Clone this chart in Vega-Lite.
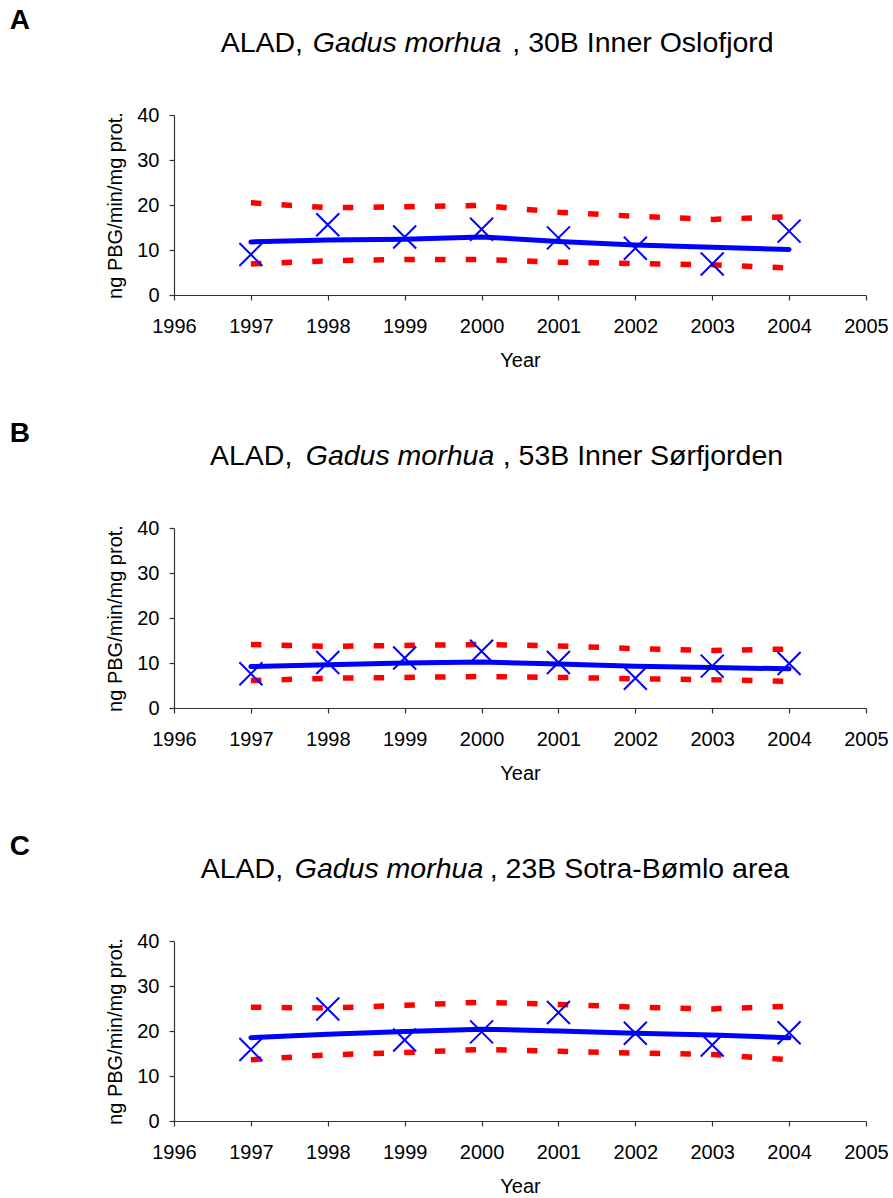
{
  "$schema": "https://vega.github.io/schema/vega-lite/v6.json",
  "padding": {"left": 9, "top": 6, "right": 5, "bottom": 5},
  "background": "white",
  "spacing": 233,
  "bounds": "flush",
  "datasets": {
    "cod": [
      {"panel": "A", "year": 1997, "obs": 9.0, "fit": 11.8, "upper": 20.5, "lower": 6.9},
      {"panel": "A", "year": 1998, "obs": 15.6, "fit": 12.2, "upper": 19.4, "lower": 7.6},
      {"panel": "A", "year": 1999, "obs": 12.9, "fit": 12.4, "upper": 19.6, "lower": 7.9},
      {"panel": "A", "year": 2000, "obs": 14.6, "fit": 12.9, "upper": 19.9, "lower": 7.9},
      {"panel": "A", "year": 2001, "obs": 12.7, "fit": 11.9, "upper": 18.4, "lower": 7.3},
      {"panel": "A", "year": 2002, "obs": 10.4, "fit": 11.1, "upper": 17.5, "lower": 7.0},
      {"panel": "A", "year": 2003, "obs": 6.9, "fit": 10.6, "upper": 16.8, "lower": 6.7},
      {"panel": "A", "year": 2004, "obs": 14.2, "fit": 10.1, "upper": 17.4, "lower": 6.0},
      {"panel": "B", "year": 1997, "obs": 7.6, "fit": 9.2, "upper": 14.1, "lower": 6.1},
      {"panel": "B", "year": 1998, "obs": 10.1, "fit": 9.6, "upper": 13.7, "lower": 6.6},
      {"panel": "B", "year": 1999, "obs": 11.1, "fit": 10.0, "upper": 13.9, "lower": 6.8},
      {"panel": "B", "year": 2000, "obs": 12.6, "fit": 10.2, "upper": 14.1, "lower": 7.0},
      {"panel": "B", "year": 2001, "obs": 10.1, "fit": 9.8, "upper": 13.8, "lower": 6.8},
      {"panel": "B", "year": 2002, "obs": 6.6, "fit": 9.3, "upper": 13.2, "lower": 6.5},
      {"panel": "B", "year": 2003, "obs": 9.3, "fit": 9.0, "upper": 12.8, "lower": 6.3},
      {"panel": "B", "year": 2004, "obs": 9.9, "fit": 8.7, "upper": 13.1, "lower": 5.9},
      {"panel": "C", "year": 1997, "obs": 15.9, "fit": 18.5, "upper": 25.3, "lower": 13.6},
      {"panel": "C", "year": 1998, "obs": 24.9, "fit": 19.3, "upper": 25.1, "lower": 14.7},
      {"panel": "C", "year": 1999, "obs": 18.0, "fit": 19.9, "upper": 25.7, "lower": 15.2},
      {"panel": "C", "year": 2000, "obs": 19.8, "fit": 20.4, "upper": 26.4, "lower": 15.9},
      {"panel": "C", "year": 2001, "obs": 24.1, "fit": 20.0, "upper": 25.9, "lower": 15.5},
      {"panel": "C", "year": 2002, "obs": 19.5, "fit": 19.5, "upper": 25.3, "lower": 15.1},
      {"panel": "C", "year": 2003, "obs": 16.9, "fit": 19.1, "upper": 24.9, "lower": 14.8},
      {"panel": "C", "year": 2004, "obs": 19.6, "fit": 18.5, "upper": 25.5, "lower": 13.6}
    ],
    "titles": [
      {"panel": "A", "letter": "A", "part1": "ALAD,", "part2": "Gadus morhua", "part3": ", 30B Inner Oslofjord"},
      {"panel": "B", "letter": "B", "part1": "ALAD,", "part2": "Gadus morhua", "part3": ", 53B Inner Sørfjorden"},
      {"panel": "C", "letter": "C", "part1": "ALAD,", "part2": "Gadus morhua", "part3": ", 23B Sotra-Bømlo area"}
    ]
  },
  "vconcat": [
    {
      "width": 692, "height": 180,
      "layer": [
        {
          "data": {"name": "cod"}, "transform": [{"filter": "datum.panel == 'A'"}],
          "mark": {"type": "line", "color": "#FF0000", "strokeWidth": 5.5, "strokeDash": [10.5, 20.2], "strokeCap": "butt"},
          "encoding": {
            "x": {"field": "year", "type": "quantitative", "scale": {"domain": [1996, 2005], "nice": false, "zero": false}, "axis": {"title": "Year", "values": [1996,1997,1998,1999,2000,2001,2002,2003,2004,2005], "format": "d", "labelPadding": 16, "titlePadding": 14, "tickSize": 5}},
            "y": {"field": "upper", "type": "quantitative", "scale": {"domain": [0, 40], "nice": false}, "axis": {"title": "ng PBG/min/mg prot.", "values": [0,10,20,30,40], "labelPadding": 10, "titlePadding": 11, "tickSize": 5}}
          }
        },
        {
          "data": {"name": "cod"}, "transform": [{"filter": "datum.panel == 'A'"}],
          "mark": {"type": "line", "color": "#FF0000", "strokeWidth": 5.5, "strokeDash": [10.5, 20.2], "strokeCap": "butt"},
          "encoding": {
            "x": {"field": "year", "type": "quantitative", "title": "Year"},
            "y": {"field": "lower", "type": "quantitative", "title": "ng PBG/min/mg prot."}
          }
        },
        {
          "data": {"name": "cod"}, "transform": [{"filter": "datum.panel == 'A'"}],
          "mark": {"type": "line", "color": "#0000FF", "strokeWidth": 5, "strokeCap": "round", "strokeJoin": "round"},
          "encoding": {
            "x": {"field": "year", "type": "quantitative", "title": "Year"},
            "y": {"field": "fit", "type": "quantitative", "title": "ng PBG/min/mg prot."}
          }
        },
        {
          "data": {"name": "cod"}, "transform": [{"filter": "datum.panel == 'A'"}],
          "mark": {"type": "point", "shape": "M-1,-1L1,1M-1,1L1,-1", "filled": false, "stroke": "#0000FF", "strokeWidth": 2, "size": 529, "opacity": 1},
          "encoding": {
            "x": {"field": "year", "type": "quantitative", "title": "Year"},
            "y": {"field": "obs", "type": "quantitative", "title": "ng PBG/min/mg prot."}
          }
        },
        {
          "data": {"name": "titles"}, "transform": [{"filter": "datum.panel == 'A'"}],
          "mark": {"type": "text", "align": "left", "baseline": "alphabetic", "font": "Liberation Sans", "fontSize": 28, "fontWeight": "bold", "color": "#000000"},
          "encoding": {
            "text": {"field": "letter"},
            "x": {"datum": 1993.863, "type": "quantitative", "title": "Year"},
            "y": {"datum": 59.2, "type": "quantitative", "title": "ng PBG/min/mg prot."}
          }
        },
        {
          "data": {"name": "titles"}, "transform": [{"filter": "datum.panel == 'A'"}],
          "mark": {"type": "text", "align": "left", "baseline": "alphabetic", "font": "Liberation Sans", "fontSize": 28.5, "color": "#000000"},
          "encoding": {
            "text": {"field": "part1"},
            "x": {"datum": 1996.607, "type": "quantitative", "title": "Year"},
            "y": {"datum": 53.89, "type": "quantitative", "title": "ng PBG/min/mg prot."}
          }
        },
        {
          "data": {"name": "titles"}, "transform": [{"filter": "datum.panel == 'A'"}],
          "mark": {"type": "text", "align": "left", "baseline": "alphabetic", "font": "Liberation Sans", "fontSize": 28.5, "fontStyle": "italic", "color": "#000000"},
          "encoding": {
            "text": {"field": "part2"},
            "x": {"datum": 1997.804, "type": "quantitative", "title": "Year"},
            "y": {"datum": 53.89, "type": "quantitative", "title": "ng PBG/min/mg prot."}
          }
        },
        {
          "data": {"name": "titles"}, "transform": [{"filter": "datum.panel == 'A'"}],
          "mark": {"type": "text", "align": "left", "baseline": "alphabetic", "font": "Liberation Sans", "fontSize": 28.5, "color": "#000000"},
          "encoding": {
            "text": {"field": "part3"},
            "x": {"datum": 2000.40, "type": "quantitative", "title": "Year"},
            "y": {"datum": 53.89, "type": "quantitative", "title": "ng PBG/min/mg prot."}
          }
        }
      ]
    },
    {
      "width": 692, "height": 180,
      "layer": [
        {
          "data": {"name": "cod"}, "transform": [{"filter": "datum.panel == 'B'"}],
          "mark": {"type": "line", "color": "#FF0000", "strokeWidth": 5.5, "strokeDash": [10.5, 20.2], "strokeCap": "butt"},
          "encoding": {
            "x": {"field": "year", "type": "quantitative", "scale": {"domain": [1996, 2005], "nice": false, "zero": false}, "axis": {"title": "Year", "values": [1996,1997,1998,1999,2000,2001,2002,2003,2004,2005], "format": "d", "labelPadding": 16, "titlePadding": 14, "tickSize": 5}},
            "y": {"field": "upper", "type": "quantitative", "scale": {"domain": [0, 40], "nice": false}, "axis": {"title": "ng PBG/min/mg prot.", "values": [0,10,20,30,40], "labelPadding": 10, "titlePadding": 11, "tickSize": 5}}
          }
        },
        {
          "data": {"name": "cod"}, "transform": [{"filter": "datum.panel == 'B'"}],
          "mark": {"type": "line", "color": "#FF0000", "strokeWidth": 5.5, "strokeDash": [10.5, 20.2], "strokeCap": "butt"},
          "encoding": {
            "x": {"field": "year", "type": "quantitative", "title": "Year"},
            "y": {"field": "lower", "type": "quantitative", "title": "ng PBG/min/mg prot."}
          }
        },
        {
          "data": {"name": "cod"}, "transform": [{"filter": "datum.panel == 'B'"}],
          "mark": {"type": "line", "color": "#0000FF", "strokeWidth": 5, "strokeCap": "round", "strokeJoin": "round"},
          "encoding": {
            "x": {"field": "year", "type": "quantitative", "title": "Year"},
            "y": {"field": "fit", "type": "quantitative", "title": "ng PBG/min/mg prot."}
          }
        },
        {
          "data": {"name": "cod"}, "transform": [{"filter": "datum.panel == 'B'"}],
          "mark": {"type": "point", "shape": "M-1,-1L1,1M-1,1L1,-1", "filled": false, "stroke": "#0000FF", "strokeWidth": 2, "size": 529, "opacity": 1},
          "encoding": {
            "x": {"field": "year", "type": "quantitative", "title": "Year"},
            "y": {"field": "obs", "type": "quantitative", "title": "ng PBG/min/mg prot."}
          }
        },
        {
          "data": {"name": "titles"}, "transform": [{"filter": "datum.panel == 'B'"}],
          "mark": {"type": "text", "align": "left", "baseline": "alphabetic", "font": "Liberation Sans", "fontSize": 28, "fontWeight": "bold", "color": "#000000"},
          "encoding": {
            "text": {"field": "letter"},
            "x": {"datum": 1993.863, "type": "quantitative", "title": "Year"},
            "y": {"datum": 59.2, "type": "quantitative", "title": "ng PBG/min/mg prot."}
          }
        },
        {
          "data": {"name": "titles"}, "transform": [{"filter": "datum.panel == 'B'"}],
          "mark": {"type": "text", "align": "left", "baseline": "alphabetic", "font": "Liberation Sans", "fontSize": 28.5, "color": "#000000"},
          "encoding": {
            "text": {"field": "part1"},
            "x": {"datum": 1996.468, "type": "quantitative", "title": "Year"},
            "y": {"datum": 53.89, "type": "quantitative", "title": "ng PBG/min/mg prot."}
          }
        },
        {
          "data": {"name": "titles"}, "transform": [{"filter": "datum.panel == 'B'"}],
          "mark": {"type": "text", "align": "left", "baseline": "alphabetic", "font": "Liberation Sans", "fontSize": 28.5, "fontStyle": "italic", "color": "#000000"},
          "encoding": {
            "text": {"field": "part2"},
            "x": {"datum": 1997.713, "type": "quantitative", "title": "Year"},
            "y": {"datum": 53.89, "type": "quantitative", "title": "ng PBG/min/mg prot."}
          }
        },
        {
          "data": {"name": "titles"}, "transform": [{"filter": "datum.panel == 'B'"}],
          "mark": {"type": "text", "align": "left", "baseline": "alphabetic", "font": "Liberation Sans", "fontSize": 28.5, "color": "#000000"},
          "encoding": {
            "text": {"field": "part3"},
            "x": {"datum": 2000.275, "type": "quantitative", "title": "Year"},
            "y": {"datum": 53.89, "type": "quantitative", "title": "ng PBG/min/mg prot."}
          }
        }
      ]
    },
    {
      "width": 692, "height": 180,
      "layer": [
        {
          "data": {"name": "cod"}, "transform": [{"filter": "datum.panel == 'C'"}],
          "mark": {"type": "line", "color": "#FF0000", "strokeWidth": 5.5, "strokeDash": [10.5, 20.2], "strokeCap": "butt"},
          "encoding": {
            "x": {"field": "year", "type": "quantitative", "scale": {"domain": [1996, 2005], "nice": false, "zero": false}, "axis": {"title": "Year", "values": [1996,1997,1998,1999,2000,2001,2002,2003,2004,2005], "format": "d", "labelPadding": 16, "titlePadding": 14, "tickSize": 5}},
            "y": {"field": "upper", "type": "quantitative", "scale": {"domain": [0, 40], "nice": false}, "axis": {"title": "ng PBG/min/mg prot.", "values": [0,10,20,30,40], "labelPadding": 10, "titlePadding": 11, "tickSize": 5}}
          }
        },
        {
          "data": {"name": "cod"}, "transform": [{"filter": "datum.panel == 'C'"}],
          "mark": {"type": "line", "color": "#FF0000", "strokeWidth": 5.5, "strokeDash": [10.5, 20.2], "strokeCap": "butt"},
          "encoding": {
            "x": {"field": "year", "type": "quantitative", "title": "Year"},
            "y": {"field": "lower", "type": "quantitative", "title": "ng PBG/min/mg prot."}
          }
        },
        {
          "data": {"name": "cod"}, "transform": [{"filter": "datum.panel == 'C'"}],
          "mark": {"type": "line", "color": "#0000FF", "strokeWidth": 5, "strokeCap": "round", "strokeJoin": "round"},
          "encoding": {
            "x": {"field": "year", "type": "quantitative", "title": "Year"},
            "y": {"field": "fit", "type": "quantitative", "title": "ng PBG/min/mg prot."}
          }
        },
        {
          "data": {"name": "cod"}, "transform": [{"filter": "datum.panel == 'C'"}],
          "mark": {"type": "point", "shape": "M-1,-1L1,1M-1,1L1,-1", "filled": false, "stroke": "#0000FF", "strokeWidth": 2, "size": 529, "opacity": 1},
          "encoding": {
            "x": {"field": "year", "type": "quantitative", "title": "Year"},
            "y": {"field": "obs", "type": "quantitative", "title": "ng PBG/min/mg prot."}
          }
        },
        {
          "data": {"name": "titles"}, "transform": [{"filter": "datum.panel == 'C'"}],
          "mark": {"type": "text", "align": "left", "baseline": "alphabetic", "font": "Liberation Sans", "fontSize": 28, "fontWeight": "bold", "color": "#000000"},
          "encoding": {
            "text": {"field": "letter"},
            "x": {"datum": 1993.863, "type": "quantitative", "title": "Year"},
            "y": {"datum": 59.2, "type": "quantitative", "title": "ng PBG/min/mg prot."}
          }
        },
        {
          "data": {"name": "titles"}, "transform": [{"filter": "datum.panel == 'C'"}],
          "mark": {"type": "text", "align": "left", "baseline": "alphabetic", "font": "Liberation Sans", "fontSize": 28.5, "color": "#000000"},
          "encoding": {
            "text": {"field": "part1"},
            "x": {"datum": 1996.347, "type": "quantitative", "title": "Year"},
            "y": {"datum": 53.89, "type": "quantitative", "title": "ng PBG/min/mg prot."}
          }
        },
        {
          "data": {"name": "titles"}, "transform": [{"filter": "datum.panel == 'C'"}],
          "mark": {"type": "text", "align": "left", "baseline": "alphabetic", "font": "Liberation Sans", "fontSize": 28.5, "fontStyle": "italic", "color": "#000000"},
          "encoding": {
            "text": {"field": "part2"},
            "x": {"datum": 1997.570, "type": "quantitative", "title": "Year"},
            "y": {"datum": 53.89, "type": "quantitative", "title": "ng PBG/min/mg prot."}
          }
        },
        {
          "data": {"name": "titles"}, "transform": [{"filter": "datum.panel == 'C'"}],
          "mark": {"type": "text", "align": "left", "baseline": "alphabetic", "font": "Liberation Sans", "fontSize": 28.5, "color": "#000000"},
          "encoding": {
            "text": {"field": "part3"},
            "x": {"datum": 2000.106, "type": "quantitative", "title": "Year"},
            "y": {"datum": 53.89, "type": "quantitative", "title": "ng PBG/min/mg prot."}
          }
        }
      ]
    }
  ],
  "config": {
    "view": {"stroke": null},
    "font": "Liberation Sans",
    "axis": {
      "grid": false,
      "labelFont": "Liberation Sans", "labelFontSize": 20, "labelColor": "#000000",
      "titleFont": "Liberation Sans", "titleFontSize": 20, "titleFontWeight": "normal", "titleColor": "#000000",
      "domainColor": "#333333", "tickColor": "#333333", "domainWidth": 1.2, "tickWidth": 1.2,
      "labelFlush": false, "labelOverlap": false
    }
  }
}
